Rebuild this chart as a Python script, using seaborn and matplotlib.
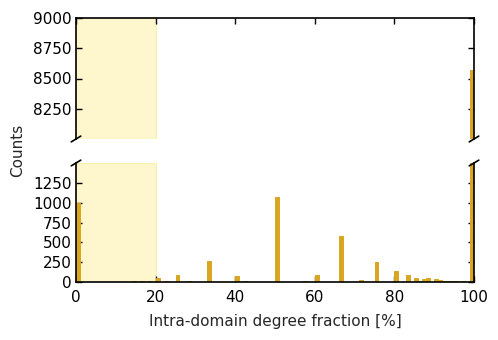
import numpy as np
import pandas as pd
import matplotlib
matplotlib.use("Agg")
import matplotlib.pyplot as plt
import seaborn as sns

# bin left edges (percent) and counts per 1%-wide bin
bin_left = [0, 1, 2, 3, 4, 5, 12, 14, 16, 18, 20, 22, 25, 28, 30, 33, 37, 40, 42, 44,
            50, 55, 57, 60, 61, 62, 66, 70, 71, 75, 77, 78, 80, 81, 83, 85, 86, 87,
            88, 90, 91, 92, 93, 94, 95, 96, 97, 98, 99]
counts = [1000, 3, 3, 3, 2, 2, 5, 8, 12, 8, 45, 8, 84, 10, 5, 265, 3, 75, 13, 3,
          1070, 3, 10, 84, 5, 4, 580, 3, 21, 252, 5, 3, 139, 5, 92, 50, 10, 42,
          46, 42, 21, 18, 12, 8, 10, 5, 8, 5, 8570]
x_ticks = [0, 20, 40, 60, 80, 100]
top_yticks = [8250, 8500, 8750, 9000]
bottom_yticks = [0, 250, 500, 750, 1000, 1250]
highlight = (0, 20)

df = pd.DataFrame({"fraction": np.array(bin_left) + 0.5, "count": counts})

sns.set_style("ticks")
plt.rcParams["font.family"] = ["DejaVu Sans"]
plt.rcParams["font.size"] = 11

fig = plt.figure(figsize=(4.98, 3.40), dpi=100)
L, R = 76 / 498, 474 / 498
ax_top = fig.add_axes([L, 1 - 139 / 340, R - L, (139 - 18) / 340])
ax_bot = fig.add_axes([L, 1 - 282 / 340, R - L, (282 - 163) / 340])

bar_color = "#DAA520"
span_color = "#FEF6CC"

for ax in (ax_top, ax_bot):
    ax.axvspan(*highlight, facecolor=span_color, edgecolor="#FBEFB0", zorder=0, lw=0.8)
    sns.histplot(data=df, x="fraction", weights="count", binwidth=1, binrange=(0, 100),
                 color=bar_color, alpha=1, edgecolor=bar_color, linewidth=0.7,
                 ax=ax, zorder=2)
    ax.set_xlim(0, 100)
    ax.set_xticks(x_ticks)
    ax.set_xlabel("")
    ax.set_ylabel("")
    for s in ax.spines.values():
        s.set_color("black")
        s.set_linewidth(1.2)
    ax.tick_params(direction="in", length=4, width=1, colors="black",
                   labelsize=11, pad=3, right=True)

ax_top.set_ylim(8000, 9000)
ax_top.set_yticks(top_yticks)
ax_top.spines["bottom"].set_visible(False)
ax_top.tick_params(axis="x", bottom=False, top=True, labelbottom=False)

ax_bot.set_ylim(0, 1500)
ax_bot.set_yticks(bottom_yticks)
ax_bot.spines["top"].set_visible(False)
ax_bot.tick_params(axis="x", top=False, bottom=True, pad=6)
ax_bot.set_xlabel("Intra-domain degree fraction [%]", fontsize=11, labelpad=6)

# break marks
d = 0.012
kw = dict(color="black", clip_on=False, lw=1.2)
ax_top.plot((-d, d), (-d * 2, d * 2), transform=ax_top.transAxes, **kw)
ax_top.plot((1 - d, 1 + d), (-d * 2, d * 2), transform=ax_top.transAxes, **kw)
ax_bot.plot((-d, d), (1 - d * 2, 1 + d * 2), transform=ax_bot.transAxes, **kw)
ax_bot.plot((1 - d, 1 + d), (1 - d * 2, 1 + d * 2), transform=ax_bot.transAxes, **kw)

fig.text(18 / 498, 1 - 150 / 340, "Counts", rotation=90, ha="center", va="center",
         fontsize=11)

fig.savefig("out.png", dpi=100, facecolor="white")
